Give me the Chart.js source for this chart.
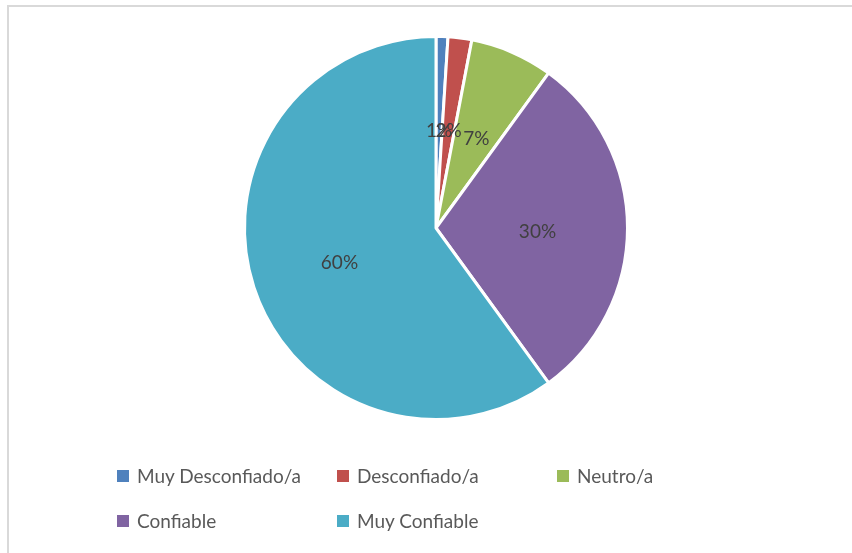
<!DOCTYPE html>
<html>
<head>
<meta charset="utf-8">
<script src="https://cdn.jsdelivr.net/npm/chart.js@4"></script>
<style>
  html, body { margin: 0; padding: 0; background: #fff; }
  #wrap { position: relative; width: 852px; height: 553px; overflow: hidden; }
  #frame { position: absolute; left: 7px; top: 5px; width: 900px; height: 600px;
           border-top: 2px solid #d9d9d9; border-left: 2px solid #d9d9d9; box-sizing: border-box; }
  #c { position: absolute; left: 0; top: 0; }
  #legend { position: absolute; left: 117px; top: 464px; width: 700px;
            font-family: Lato, "Liberation Sans", sans-serif; font-size: 19px; color: #595959; }
  .item { position: absolute; display: flex; align-items: center; white-space: nowrap; }
  .box { width: 12px; height: 12px; margin-right: 8px; }
</style>
</head>
<body>
<div id="wrap">
  <div id="frame"></div>
  <canvas id="c" width="852" height="553"></canvas>
  <div id="legend"></div>
</div>
<script>
const categories = ["Muy Desconfiado/a", "Desconfiado/a", "Neutro/a", "Confiable", "Muy Confiable"];
const values = [1, 2, 7, 30, 60];
const valueLabels = ["1%", "2%", "7%", "30%", "60%"];
const colors = ["#4F81BD", "#C0504D", "#9BBB59", "#8064A2", "#4BACC6"];

const labelPlugin = {
  id: 'sliceLabels',
  afterDatasetsDraw(chart) {
    const ctx = chart.ctx;
    const meta = chart.getDatasetMeta(0);
    ctx.save();
    ctx.font = '19px Lato, "Liberation Sans", sans-serif';
    ctx.fillStyle = '#404040';
    ctx.textAlign = 'center';
    ctx.textBaseline = 'middle';
    meta.data.forEach((arc, i) => {
      const p = arc.getProps(['x', 'y', 'startAngle', 'endAngle', 'outerRadius'], true);
      const mid = (p.startAngle + p.endAngle) / 2;
      const r = p.outerRadius * 0.53;
      ctx.fillText(valueLabels[i], p.x + Math.cos(mid) * r, p.y + Math.sin(mid) * r + 4);
    });
    ctx.restore();
  }
};

new Chart(document.getElementById('c'), {
  type: 'pie',
  data: {
    labels: categories,
    datasets: [{
      data: values,
      backgroundColor: colors,
      borderColor: '#ffffff',
      borderWidth: 3
    }]
  },
  options: {
    responsive: false,
    animation: false,
    layout: { padding: { left: 243, right: 223, top: 35, bottom: 132 } },
    plugins: {
      legend: { display: false },
      tooltip: { enabled: false }
    }
  },
  plugins: [labelPlugin]
});

const legend = document.getElementById('legend');
categories.forEach((name, i) => {
  const col = i < 3 ? i : i - 3;
  const row = i < 3 ? 0 : 1;
  const el = document.createElement('div');
  el.className = 'item';
  el.style.left = (col * 220) + 'px';
  el.style.top = (row * 45) + 'px';
  el.innerHTML = '<span class="box" style="background:' + colors[i] + '"></span><span>' + name + '</span>';
  legend.appendChild(el);
});
</script>
</body>
</html>
